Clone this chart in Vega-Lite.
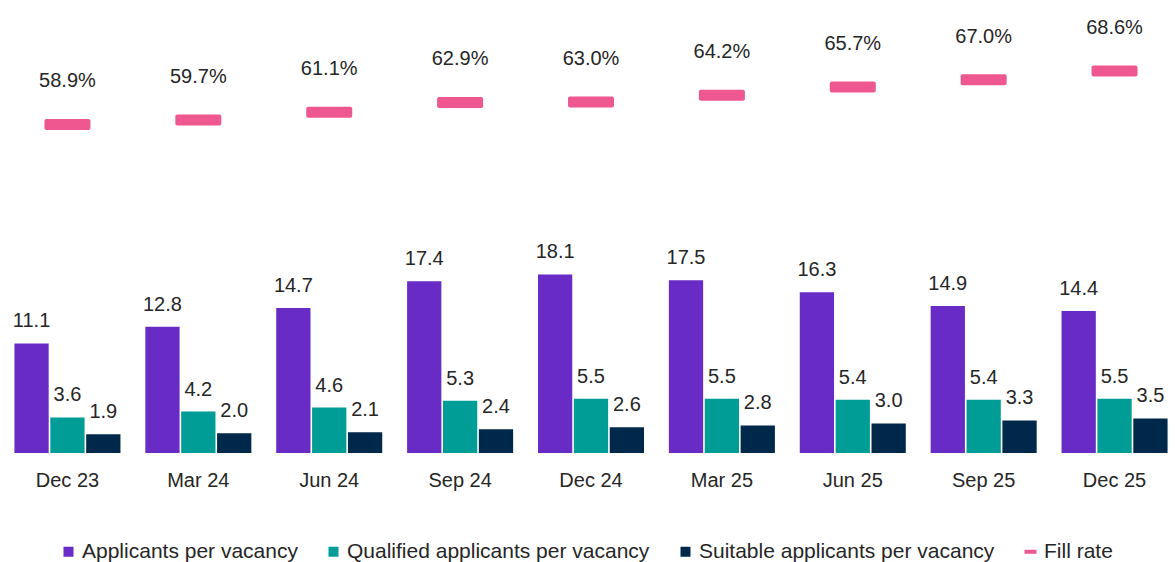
{
  "$schema": "https://vega.github.io/schema/vega-lite/v6.json",
  "autosize": {"type": "none"},
  "width": 1178,
  "height": 441,
  "padding": {"left": 2, "top": 12, "right": 0, "bottom": 109},
  "background": "white",
  "config": {
    "view": {"stroke": null},
    "font": "Liberation Sans",
    "text": {"font": "Liberation Sans"}
  },
  "datasets": {
    "bars": [
      {"period": "Dec 23", "series": "Applicants per vacancy", "value": 11.1},
      {"period": "Dec 23", "series": "Qualified applicants per vacancy", "value": 3.6},
      {"period": "Dec 23", "series": "Suitable applicants per vacancy", "value": 1.9},
      {"period": "Mar 24", "series": "Applicants per vacancy", "value": 12.8},
      {"period": "Mar 24", "series": "Qualified applicants per vacancy", "value": 4.2},
      {"period": "Mar 24", "series": "Suitable applicants per vacancy", "value": 2.0},
      {"period": "Jun 24", "series": "Applicants per vacancy", "value": 14.7},
      {"period": "Jun 24", "series": "Qualified applicants per vacancy", "value": 4.6},
      {"period": "Jun 24", "series": "Suitable applicants per vacancy", "value": 2.1},
      {"period": "Sep 24", "series": "Applicants per vacancy", "value": 17.4},
      {"period": "Sep 24", "series": "Qualified applicants per vacancy", "value": 5.3},
      {"period": "Sep 24", "series": "Suitable applicants per vacancy", "value": 2.4},
      {"period": "Dec 24", "series": "Applicants per vacancy", "value": 18.1},
      {"period": "Dec 24", "series": "Qualified applicants per vacancy", "value": 5.5},
      {"period": "Dec 24", "series": "Suitable applicants per vacancy", "value": 2.6},
      {"period": "Mar 25", "series": "Applicants per vacancy", "value": 17.5},
      {"period": "Mar 25", "series": "Qualified applicants per vacancy", "value": 5.5},
      {"period": "Mar 25", "series": "Suitable applicants per vacancy", "value": 2.8},
      {"period": "Jun 25", "series": "Applicants per vacancy", "value": 16.3},
      {"period": "Jun 25", "series": "Qualified applicants per vacancy", "value": 5.4},
      {"period": "Jun 25", "series": "Suitable applicants per vacancy", "value": 3.0},
      {"period": "Sep 25", "series": "Applicants per vacancy", "value": 14.9},
      {"period": "Sep 25", "series": "Qualified applicants per vacancy", "value": 5.4},
      {"period": "Sep 25", "series": "Suitable applicants per vacancy", "value": 3.3},
      {"period": "Dec 25", "series": "Applicants per vacancy", "value": 14.4},
      {"period": "Dec 25", "series": "Qualified applicants per vacancy", "value": 5.5},
      {"period": "Dec 25", "series": "Suitable applicants per vacancy", "value": 3.5}
    ],
    "fill": [
      {"period": "Dec 23", "fill_rate": 0.589},
      {"period": "Mar 24", "fill_rate": 0.597},
      {"period": "Jun 24", "fill_rate": 0.611},
      {"period": "Sep 24", "fill_rate": 0.629},
      {"period": "Dec 24", "fill_rate": 0.630},
      {"period": "Mar 25", "fill_rate": 0.642},
      {"period": "Jun 25", "fill_rate": 0.657},
      {"period": "Sep 25", "fill_rate": 0.670},
      {"period": "Dec 25", "fill_rate": 0.686}
    ]
  },
  "encoding": {
    "x": {
      "field": "period",
      "type": "nominal",
      "sort": ["Dec 23", "Mar 24", "Jun 24", "Sep 24", "Dec 24", "Mar 25", "Jun 25", "Sep 25", "Dec 25"],
      "scale": {"paddingInner": 0.19, "paddingOuter": 0.095},
      "axis": {
        "title": null,
        "labelAngle": 0,
        "domain": false,
        "ticks": false,
        "tickSize": 0,
        "labelPadding": 33,
        "labelBaseline": "alphabetic",
        "labelFontSize": 20,
        "labelFont": "Liberation Sans",
        "labelColor": "#262626"
      }
    }
  },
  "layer": [
    {
      "data": {"name": "bars"},
      "encoding": {
        "xOffset": {"field": "series", "type": "nominal", "scale": {"paddingInner": 0.045}},
        "y": {"field": "value", "type": "quantitative", "scale": {"domain": [0, 44.7], "nice": false, "zero": true}, "axis": null}
      },
      "layer": [
        {
          "mark": {"type": "bar"},
          "encoding": {
            "color": {
              "field": "series",
              "type": "nominal",
              "scale": {
                "domain": ["Applicants per vacancy", "Qualified applicants per vacancy", "Suitable applicants per vacancy", "Fill rate"],
                "range": ["#692BC5", "#009C96", "#00284B", "#EE5790"]
              },
              "legend": {
                "title": null,
                "orient": "none",
                "direction": "horizontal",
                "columns": 4,
                "legendX": 56,
                "legendY": 529,
                "labelFontSize": 21,
                "labelFont": "Liberation Sans",
                "labelColor": "#262626",
                "labelLimit": 600,
                "labelOffset": 3,
                "columnPadding": 25,
                "symbolType": "square",
                "symbolSize": 100,
                "symbolStrokeWidth": 0,
                "symbolOpacity": 1,
                "encode": {
                  "symbols": {
                    "update": {
                      "shape": {"signal": "datum.value === 'Fill rate' ? 'M-1.2,-0.4H1.2V0.4H-1.2Z' : 'square'"}
                    }
                  }
                }
              }
            }
          }
        },
        {
          "mark": {"type": "text", "baseline": "alphabetic", "dy": -16, "fontSize": 20, "color": "#262626"},
          "encoding": {
            "text": {"field": "value", "type": "quantitative", "format": ".1f"}
          }
        }
      ]
    },
    {
      "data": {"name": "fill"},
      "encoding": {
        "y": {"field": "fill_rate", "type": "quantitative", "scale": {"domain": [-0.0067, 0.793], "nice": false, "zero": false}, "axis": null}
      },
      "layer": [
        {
          "mark": {"type": "tick", "orient": "horizontal", "size": 46, "thickness": 11, "cornerRadius": 2, "opacity": 1},
          "encoding": {
            "color": {"datum": "Fill rate", "type": "nominal"}
          }
        },
        {
          "mark": {"type": "text", "baseline": "alphabetic", "dy": -37, "fontSize": 20, "color": "#262626"},
          "encoding": {
            "text": {"field": "fill_rate", "type": "quantitative", "format": ".1%"}
          }
        }
      ]
    }
  ],
  "resolve": {"scale": {"y": "independent"}}
}
